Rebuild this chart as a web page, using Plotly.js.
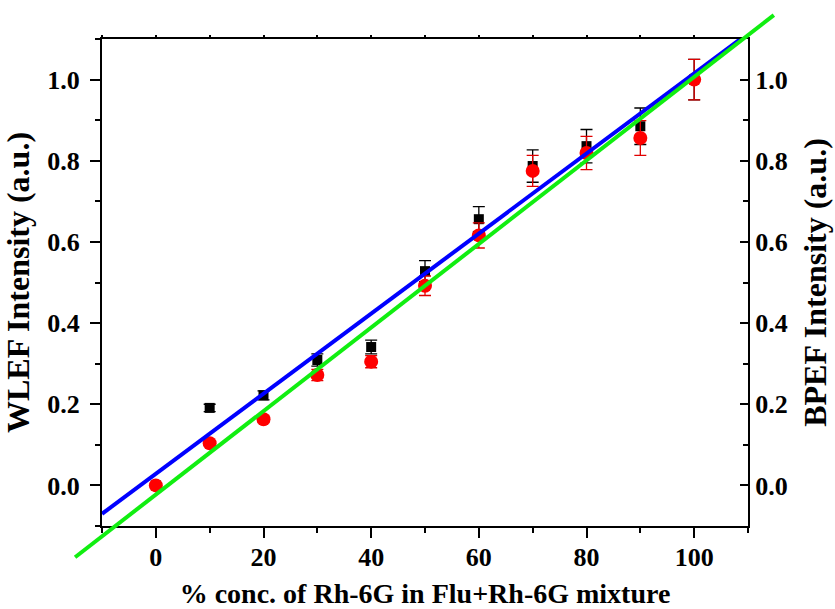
<!DOCTYPE html>
<html>
<head>
<meta charset="utf-8">
<script src="https://cdn.plot.ly/plotly-3.0.1.min.js"></script>
<style>html,body{margin:0;padding:0;background:#fff;}#chart{width:835px;height:609px;}</style>
</head>
<body>
<div id="chart"></div>
<script>
// Data
const conc = [0, 10, 20, 30, 40, 50, 60, 70, 80, 90, 100];
const wlef = [0.0, 0.191, 0.222, 0.309, 0.341, 0.528, 0.656, 0.787, 0.836, 0.885, 1.0];
const wlefErr = [0.0, 0.009, 0.011, 0.015, 0.017, 0.026, 0.031, 0.040, 0.041, 0.045, 0.05];
const bpef = [0.0, 0.104, 0.163, 0.272, 0.305, 0.492, 0.616, 0.775, 0.819, 0.856, 1.0];
const bpefErr = [0.0, 0.005, 0.008, 0.014, 0.015, 0.024, 0.031, 0.038, 0.041, 0.043, 0.05];
// Fitted lines (end points)
const fitWlefX = [-10, 108.7];
const fitWlefY = [-0.070, 1.101];
const fitBpefX = [-15.0, 114.8];
const fitBpefY = [-0.177, 1.159];

const W = 835, H = 609;
const xRange = [-10, 110], yRange = [-0.1, 1.1];
const plotL = 102, plotR = 748, plotT = 39, plotB = 526;
const xDom = [plotL / W, plotR / W];
const yDom = [(H - plotB) / H, (H - plotT) / H];
const xScale = (plotR - plotL) / (xRange[1] - xRange[0]);
const yScale = (plotB - plotT) / (yRange[1] - yRange[0]);
const bigX = [xRange[0] - plotL / xScale, xRange[1] + (W - plotR) / xScale];
const bigY = [yRange[0] - (H - plotB) / yScale, yRange[1] + plotT / yScale];

const FONT = 'Liberation Serif, Times New Roman, serif';
const tickFont = {family: FONT, size: 26, color: '#000', weight: 'bold'};
const xTitleFont = {family: FONT, size: 28, color: '#000', weight: 'bold'};
const yTitleFont = {family: FONT, size: 32, color: '#000', weight: 'bold'};

const traces = [
  {x: conc, y: wlef, type: 'scatter', mode: 'markers', name: 'WLEF',
   xaxis: 'x', yaxis: 'y', cliponaxis: false,
   marker: {symbol: 'square', size: 10, color: '#000'},
   error_y: {type: 'data', array: wlefErr, visible: true, color: '#000', thickness: 1.3, width: 6}},
  {x: fitWlefX, y: fitWlefY, type: 'scatter', mode: 'lines', name: 'fit WLEF',
   xaxis: 'x2', yaxis: 'y', line: {color: '#0000ff', width: 4}},
  {x: conc, y: bpef, type: 'scatter', mode: 'markers', name: 'BPEF',
   xaxis: 'x', yaxis: 'y2', cliponaxis: false,
   marker: {symbol: 'circle', size: 14, color: '#ff0000'},
   error_y: {type: 'data', array: bpefErr, visible: true, color: '#e00000', thickness: 1.3, width: 6}},
  {x: fitBpefX, y: fitBpefY, type: 'scatter', mode: 'lines', name: 'fit BPEF',
   xaxis: 'x3', yaxis: 'y3', line: {color: '#11ee11', width: 4}}
];

const layout = {
  width: W, height: H,
  margin: {l: 0, r: 0, t: 0, b: 0, pad: 0},
  paper_bgcolor: '#fff', plot_bgcolor: 'rgba(0,0,0,0)',
  showlegend: false,
  xaxis: {domain: xDom, range: xRange, anchor: 'y', showgrid: false, zeroline: false,
    showline: true, linecolor: '#000', linewidth: 2,
    ticks: 'outside', ticklen: 10, tickwidth: 2, tickcolor: '#000', dtick: 20, tick0: 0,
    minor: {dtick: 10, ticks: 'outside', ticklen: 5, tickwidth: 2, tickcolor: '#000', showgrid: false},
    tickfont: tickFont, ticklabelstandoff: -3,
    title: {text: '% conc. of Rh-6G in Flu+Rh-6G mixture', font: xTitleFont, standoff: 18}},
  xaxis2: {overlaying: 'x', side: 'top', anchor: 'y', range: xRange, showgrid: false, zeroline: false,
    showline: true, linecolor: '#000', linewidth: 2, ticks: 'outside', ticklen: 2, tickwidth: 2,
    tickcolor: '#000', dtick: 10, tick0: 0, showticklabels: false},
  yaxis: {domain: yDom, range: yRange, anchor: 'x', showgrid: false, zeroline: false,
    showline: true, linecolor: '#000', linewidth: 2,
    ticks: 'outside', ticklen: 10, tickwidth: 2, tickcolor: '#000', dtick: 0.2, tick0: 0,
    tickformat: '.1f', ticklabelstandoff: 5,
    minor: {dtick: 0.1, ticks: 'outside', ticklen: 5, tickwidth: 2, tickcolor: '#000', showgrid: false},
    tickfont: tickFont,
    title: {text: 'WLEF Intensity (a.u.)', font: yTitleFont, standoff: 10}},
  yaxis2: {overlaying: 'y', side: 'right', anchor: 'x', range: yRange, showgrid: false, zeroline: false,
    showline: true, linecolor: '#000', linewidth: 2,
    ticks: 'inside', ticklen: 8, tickwidth: 2, tickcolor: '#000', dtick: 0.2, tick0: 0,
    tickformat: '.1f',
    minor: {dtick: 0.1, ticks: 'inside', ticklen: 5, tickwidth: 2, tickcolor: '#000', showgrid: false},
    tickfont: tickFont,
    title: {text: 'BPEF Intensity (a.u.)', font: yTitleFont, standoff: 17}},
  xaxis3: {domain: [0, 1], range: bigX, anchor: 'y3', visible: false, fixedrange: true},
  yaxis3: {domain: [0, 1], range: bigY, anchor: 'x3', visible: false, fixedrange: true}
};

Plotly.newPlot('chart', traces, layout, {displayModeBar: false, staticPlot: true});
</script>
</body>
</html>
